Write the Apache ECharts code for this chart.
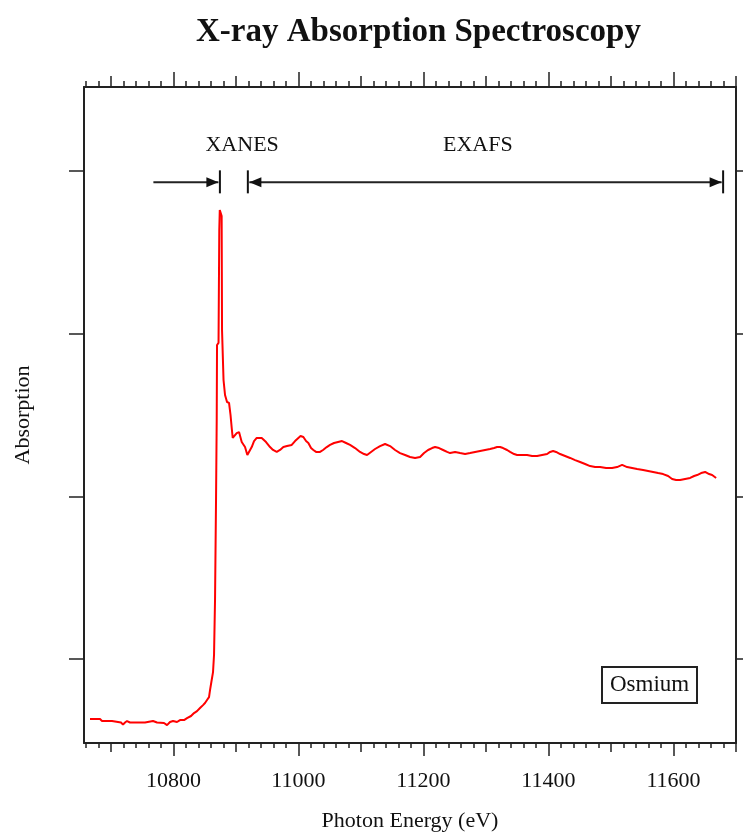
<!DOCTYPE html>
<html>
<head>
<meta charset="utf-8">
<script src="https://cdn.jsdelivr.net/npm/echarts@6/dist/echarts.min.js"></script>
<style>
html,body{margin:0;padding:0;background:#fff;}
#chart{width:743px;height:833px;}
</style>
</head>
<body>
<div id="chart"></div>
<script>
// ---- Data ----
var energy = [10666.6,10682.6,10685.8,10701.8,10703.4,10716.2,10719.4,10722.6,10725.8,10730.6,10754.6,10767.4,10773.8,10785,10789.8,10794.6,10799.4,10805.8,10810.6,10817,10821.8,10828.2,10833,10837.8,10842.6,10847.4,10850.6,10853.8,10857,10858.6,10861,10863.4,10865,10866.6,10868.2,10869.3,10869.8,10872.2,10873.4,10874.2,10876.1,10877.2,10877.8,10879.4,10880.2,10882.6,10885.8,10889,10891.4,10893.3,10894.9,10897,10901.3,10905,10909.3,10914.6,10918.3,10921.8,10925.3,10929,10933.3,10941.3,10948.2,10954.6,10959.4,10965.3,10970.6,10975.9,10981.8,10989.3,10994.6,10999.9,11003.4,11007.9,11012.2,11015.9,11020.2,11023.9,11028.2,11034.6,11039.4,11045.3,11050.6,11057,11063.4,11069.8,11076.2,11082.6,11090.6,11098.6,11105,11109.8,11116.2,11122.6,11130.6,11138.6,11146.6,11154.6,11162.6,11170.6,11178.6,11186.6,11194.6,11201,11207.4,11213.8,11218.6,11225,11231.4,11237.8,11242.6,11250.6,11258.6,11266.6,11274.6,11282.6,11290.6,11298.6,11306.6,11313,11317.8,11322.6,11327.4,11333.8,11338.6,11345,11349.8,11357.8,11365.8,11373.8,11381.8,11389.8,11397.8,11402.6,11407.4,11412.2,11418.6,11426.6,11434.6,11442.6,11450.6,11458.6,11466.6,11474.6,11482.6,11492.2,11501.8,11509.8,11517.8,11525.8,11533.8,11541.8,11551.4,11559.4,11567.4,11575.4,11583.4,11591.4,11597.8,11604.2,11610.6,11618.6,11626.6,11633,11637.8,11644.2,11650.6,11657,11661.8,11668.2];
var absorption = [-0.369,-0.369,-0.381,-0.381,-0.390,-0.390,-0.403,-0.390,-0.381,-0.390,-0.390,-0.381,-0.390,-0.393,-0.406,-0.387,-0.381,-0.387,-0.375,-0.375,-0.363,-0.350,-0.332,-0.320,-0.301,-0.283,-0.270,-0.252,-0.234,-0.191,-0.135,-0.080,0.025,0.363,0.977,1.469,1.930,1.943,2.637,2.760,2.754,2.723,2.022,2.016,1.715,1.623,1.580,1.574,1.500,1.420,1.359,1.371,1.389,1.395,1.334,1.303,1.254,1.279,1.303,1.340,1.359,1.359,1.334,1.303,1.285,1.273,1.285,1.303,1.309,1.316,1.340,1.359,1.371,1.365,1.340,1.328,1.297,1.285,1.273,1.273,1.285,1.303,1.316,1.328,1.334,1.340,1.328,1.316,1.297,1.273,1.260,1.254,1.273,1.291,1.309,1.322,1.309,1.285,1.266,1.254,1.242,1.236,1.242,1.266,1.285,1.297,1.303,1.297,1.285,1.273,1.266,1.273,1.266,1.260,1.266,1.273,1.279,1.285,1.291,1.297,1.303,1.303,1.297,1.285,1.273,1.260,1.254,1.254,1.254,1.248,1.248,1.254,1.260,1.273,1.279,1.273,1.260,1.248,1.236,1.223,1.211,1.199,1.186,1.180,1.180,1.174,1.174,1.180,1.193,1.180,1.174,1.168,1.162,1.156,1.150,1.143,1.137,1.125,1.107,1.100,1.100,1.107,1.113,1.125,1.131,1.143,1.150,1.137,1.131,1.113];

var xMin = 10657, xMax = 11700;
var yMin = -0.516, yMax = 3.516;
var xMajorTicks = [10800, 11000, 11200, 11400, 11600];
var xMediumTicks = [10700, 10900, 11100, 11300, 11500, 11700];
var xMinorTicks = [];
for (var t = 10660; t <= 11700; t += 20) xMinorTicks.push(t);
var yTicks = [0, 1, 2, 3];

// region annotations
var regionNames = ['XANES', 'EXAFS'];
var regionLabelX = [10910, 11287];
var regionLabelY = [3.16, 3.16];
var arrowStart = [10768, 10921.5];
var arrowEnd = [10872, 11677];
var arrowY = [2.93, 2.93];
var arrowHeadAtStart = [0, 1];
var arrowHeadAtEnd = [1, 1];

var sampleName = 'Osmium';

// ---- Chart ----
var FONT = '"Liberation Serif", "Times New Roman", serif';
var INK = '#111';

function xAxisDef(position, values, len, withLabels, withLine) {
  return {
    type: 'value', position: position, min: xMin, max: xMax, gridIndex: 0,
    axisLine: { show: withLine, onZero: false, lineStyle: { color: '#222', width: 2 } },
    axisTick: { show: true, customValues: values, length: len, inside: false, lineStyle: { color: '#222', width: 1.5 } },
    axisLabel: withLabels ? {
      show: true, customValues: values, fontFamily: FONT, fontSize: 22, color: INK, margin: 27,
      formatter: function (v) { return String(Math.round(v)); }
    } : { show: false },
    splitLine: { show: false },
    name: (withLabels ? 'Photon Energy (eV)' : ''),
    nameLocation: 'middle', nameGap: 67,
    nameTextStyle: { fontFamily: FONT, fontSize: 22, color: INK }
  };
}

var xAxes = [
  xAxisDef('bottom', xMajorTicks, 13, true, true),
  xAxisDef('bottom', xMediumTicks, 9, false, false),
  xAxisDef('bottom', xMinorTicks, 5, false, false),
  xAxisDef('top', xMajorTicks, 15, false, true),
  xAxisDef('top', xMediumTicks, 11, false, false),
  xAxisDef('top', xMinorTicks, 6, false, false)
];

var yAxes = [
  {
    type: 'value', position: 'left', min: yMin, max: yMax,
    axisLine: { show: true, onZero: false, lineStyle: { color: '#222', width: 2 } },
    axisTick: { show: true, customValues: yTicks, length: 15, inside: false, lineStyle: { color: '#222', width: 1.5 } },
    axisLabel: { show: false }, splitLine: { show: false },
    name: 'Absorption', nameLocation: 'middle', nameGap: 50,
    nameTextStyle: { fontFamily: FONT, fontSize: 22, color: INK }
  },
  {
    type: 'value', position: 'right', min: yMin, max: yMax,
    axisLine: { show: true, onZero: false, lineStyle: { color: '#222', width: 2 } },
    axisTick: { show: true, customValues: yTicks, length: 10, inside: false, lineStyle: { color: '#222', width: 1.5 } },
    axisLabel: { show: false }, splitLine: { show: false }
  }
];

var lineData = energy.map(function (e, i) { return [e, absorption[i]]; });
var arrowData = arrowStart.map(function (s, i) { return [s, arrowEnd[i], arrowY[i], arrowHeadAtStart[i], arrowHeadAtEnd[i]]; });
var labelData = regionNames.map(function (n, i) { return [regionLabelX[i], regionLabelY[i], n]; });

function renderArrow(params, api) {
  var x1 = api.value(0), x2 = api.value(1), y = api.value(2);
  var hs = api.value(3), he = api.value(4);
  var p1 = api.coord([x1, y]), p2 = api.coord([x2, y]);
  var children = [{
    type: 'line', shape: { x1: p1[0], y1: p1[1], x2: p2[0], y2: p2[1] },
    style: { stroke: '#222', lineWidth: 2 }
  }];
  function head(p, dir) {
    children.push({
      type: 'polygon',
      shape: { points: [[p[0], p[1]], [p[0] - dir * 12, p[1] - 5], [p[0] - dir * 12, p[1] + 5]] },
      style: { fill: '#111' }
    });
    children.push({
      type: 'line',
      shape: { x1: p[0] + dir * 1.5, y1: p[1] - 12, x2: p[0] + dir * 1.5, y2: p[1] + 11 },
      style: { stroke: '#111', lineWidth: 2 }
    });
  }
  if (hs) head(p1, -1);
  if (he) head(p2, 1);
  return { type: 'group', children: children };
}

function renderLabel(params, api) {
  var p = api.coord([api.value(0), api.value(1)]);
  return {
    type: 'text', x: p[0], y: p[1],
    style: { text: labelData[params.dataIndex][2], fill: INK, font: '22px ' + FONT, textAlign: 'center', textVerticalAlign: 'middle' }
  };
}

var chart = echarts.init(document.getElementById('chart'), null, { renderer: 'canvas' });
chart.setOption({
  backgroundColor: '#fff',
  animation: false,
  title: [
    {
      text: 'X-ray Absorption Spectroscopy', left: 196, top: 16, padding: 0,
      textStyle: { fontFamily: FONT, fontSize: 33, fontWeight: 'bold', color: INK }
    },
    {
      text: sampleName, left: 602, top: 667, padding: [5, 8, 5, 8],
      borderColor: '#222', borderWidth: 2, backgroundColor: '#fff',
      textStyle: { fontFamily: FONT, fontSize: 23, fontWeight: 'normal', color: INK, lineHeight: 26 }
    }
  ],
  grid: { left: 84, right: 7, top: 87, bottom: 90, containLabel: false, outerBoundsMode: 'none' },
  xAxis: xAxes,
  yAxis: yAxes,
  series: [
    {
      type: 'line', xAxisIndex: 0, yAxisIndex: 0, data: lineData,
      showSymbol: false, symbol: 'none', smooth: false,
      lineStyle: { color: '#ff0000', width: 2 }
    },
    {
      type: 'custom', xAxisIndex: 0, yAxisIndex: 0, data: arrowData,
      renderItem: renderArrow, silent: true, clip: false
    },
    {
      type: 'custom', xAxisIndex: 0, yAxisIndex: 0, data: labelData,
      renderItem: renderLabel, silent: true, clip: false
    }
  ]
});
</script>
</body>
</html>
